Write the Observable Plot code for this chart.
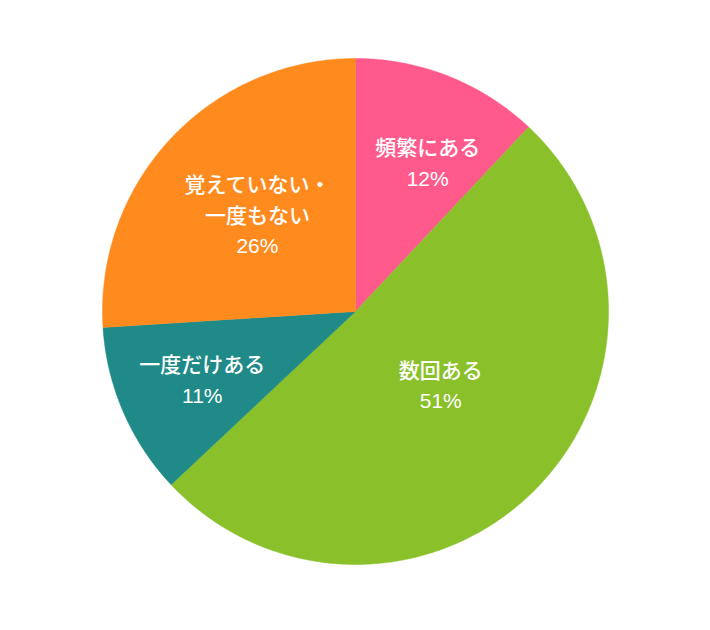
<!DOCTYPE html>
<html><head><meta charset="utf-8">
<script src="https://cdn.jsdelivr.net/npm/d3@7"></script>
<script src="https://cdn.jsdelivr.net/npm/@observablehq/plot@0.6"></script>
<style>body{margin:0;background:#fff;} #chart{width:710px;height:630px;}</style>
</head><body><div id="chart"></div>
<script>
const categories = ["頻繁にある", "数回ある", "一度だけある", "覚えていない・\n一度もない"];
const values = [12, 51, 11, 26];
const colors = ["#FF5A8B", "#8AC12B", "#1F8A87", "#FF8B1F"];

// layout (not data): label radius as fraction of pie radius, and angular nudge (degrees)
const labelRadius = [0.66, 0.44, 0.66, 0.55];
const labelNudge = [4, -5, 0, 2];

const total = d3.sum(values);
const slices = [];
const labels = [];
let acc = 0;
values.forEach((v, i) => {
  const a0 = acc / total * 2 * Math.PI;
  acc += v;
  const a1 = acc / total * 2 * Math.PI;
  slices.push({key: categories[i], x: 0, y: 0});
  const n = Math.max(2, Math.ceil((a1 - a0) / (Math.PI / 360)));
  for (let k = 0; k <= n; k++) {
    const a = a0 + (a1 - a0) * k / n;
    slices.push({key: categories[i], x: Math.sin(a), y: Math.cos(a)});
  }
  slices.push({key: categories[i], x: 0, y: 0});
  const am = (a0 + a1) / 2 + labelNudge[i] * Math.PI / 180;
  labels.push({key: categories[i], x: labelRadius[i] * Math.sin(am), y: labelRadius[i] * Math.cos(am), text: categories[i] + "\n" + v + "%"});
});

const chart = Plot.plot({
  width: 710, height: 630,
  marginLeft: 102, marginRight: 102, marginTop: 58, marginBottom: 66,
  x: {domain: [-1, 1], axis: null},
  y: {domain: [-1, 1], axis: null},
  color: {domain: categories, range: colors},
  style: {fontFamily: "'Liberation Sans', 'Noto Sans CJK JP', sans-serif", background: "#fff"},
  marks: [
    Plot.line(slices, {x: "x", y: "y", z: "key", fill: "key", stroke: "key", strokeWidth: 0.5, curve: "linear"}),
    Plot.text(labels, {x: "x", y: "y", text: "text", fill: "#fff", fontSize: 21, fontWeight: 500, lineHeight: 1.45, lineAnchor: "middle", textAnchor: "middle"})
  ]
});
document.getElementById("chart").appendChild(chart);
</script></body></html>
